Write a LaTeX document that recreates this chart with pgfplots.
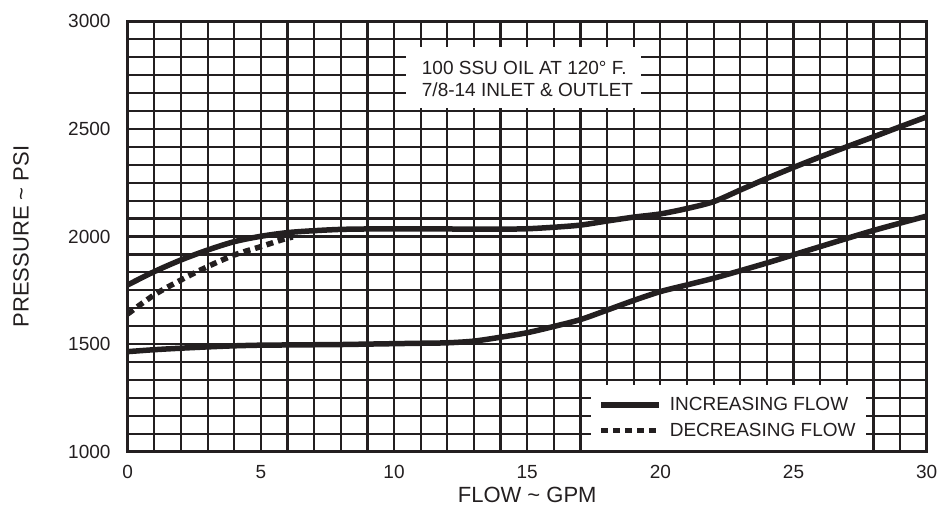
\documentclass[border=0pt]{standalone}
\usepackage{fontspec}
\setmainfont{Liberation Sans}
\usepackage{pgfplots}
\pgfplotsset{compat=1.18}
\usetikzlibrary{calc}
\definecolor{ink}{RGB}{35,31,32}

\begin{document}
\begin{tikzpicture}
\begin{axis}[
  name=ax,
  scale only axis, width=799pt, height=430.4pt,
  xmin=0, xmax=30, ymin=1000, ymax=3000,
  xtick={0,1,...,30},
  xticklabels={0,,,,,5,,,,,10,,,,,15,,,,,20,,,,,25,,,,,30},
  ytick={1000,1083.333,1166.667,1250,1333.333,1416.667,1500,1583.333,1666.667,1750,1833.333,1916.667,2000,2083.333,2166.667,2250,2333.333,2416.667,2500,2583.333,2666.667,2750,2833.333,2916.667,3000},
  yticklabels={1000,,,,,,1500,,,,,,2000,,,,,,2500,,,,,,3000},
  grid=major,
  major grid style={draw=ink, line width=2.2pt},
  major tick length=0pt,
  axis line style={draw=ink, line width=3pt},
  tick label style={font=\fontsize{19}{22}\selectfont, text=ink},
  xticklabel style={yshift=-9.7pt},
  yticklabel style={xshift=-13.7pt},
  xlabel={FLOW \textasciitilde{} GPM},
  ylabel={PRESSURE \textasciitilde{} PSI},
  label style={font=\fontsize{22}{26}\selectfont, text=ink},
  xlabel style={at={(axis description cs:0.5,-0.0999)}, anchor=center},
  ylabel style={at={(axis description cs:-0.1335,0.5)}, anchor=center},
  legend style={at={(axis cs:17.4,1310)}, anchor=north west, draw=none, fill=white,
    inner xsep=7pt, inner ysep=9.5pt, font=\fontsize{19}{22}\selectfont, text=ink,
    row sep=4.5pt, nodes={inner sep=3pt},
    /tikz/every odd column/.append style={column sep=5pt}},
  legend cell align=left,
  legend image code/.code={\draw[#1] (0pt,0pt) -- (58pt,0pt);},
]
\addplot[ink, line width=5.5pt, smooth, tension=0.5] coordinates {
(0,1775) (1,1837) (2,1891) (3,1937) (4,1976) (5,2001) (6,2018) (7,2027) (8,2033)
(9,2035) (10,2035) (11,2035) (12,2035) (13,2034) (14,2034) (15,2036) (16,2043)
(17,2053) (18,2072) (19,2090) (20,2105) (21,2130) (22,2162) (23,2216) (24,2270)
(25,2321) (26,2370) (27,2417) (28,2463) (29,2510) (30,2556)};
\addlegendentry{INCREASING FLOW}
\addplot[ink, line width=5.5pt, dash pattern=on 7pt off 5pt, smooth, tension=0.5] coordinates {
(0,1640) (1,1729) (2,1798) (3,1860) (4,1914) (5,1953) (5.8,1985) (6.2,1998)};
\addlegendentry{DECREASING FLOW\hspace{5pt}}
\addplot[ink, line width=5.5pt, smooth, tension=0.5, forget plot] coordinates {
(0,1465) (1,1474) (2,1481) (3,1487) (4,1492) (5,1495) (6,1496) (7,1497) (8,1498)
(9,1500) (10,1502) (11,1504) (12,1506) (13,1514) (14,1532) (15,1553) (16,1582)
(17,1614) (18,1658) (19,1703) (20,1744) (21,1775) (22,1806) (23,1841) (24,1877)
(25,1915) (26,1953) (27,1991) (28,2028) (29,2062) (30,2095)};
\fill[white] (axis cs:10.46,2597) rectangle (axis cs:19.26,2880);
\node[anchor=north west, align=left, inner sep=0pt, text=ink,
  font=\fontsize{19}{22.3}\selectfont] at (axis cs:11.04,2815)
  {100 SSU OIL AT 120° F.\\7/8-14 INLET \& OUTLET};
\end{axis}
\pgfresetboundingbox
\path[use as bounding box] ($(ax.south west)+(-127.7pt,-54.3pt)$) rectangle ($(ax.north east)+(12.3pt,21.3pt)$);
\end{tikzpicture}
\end{document}
